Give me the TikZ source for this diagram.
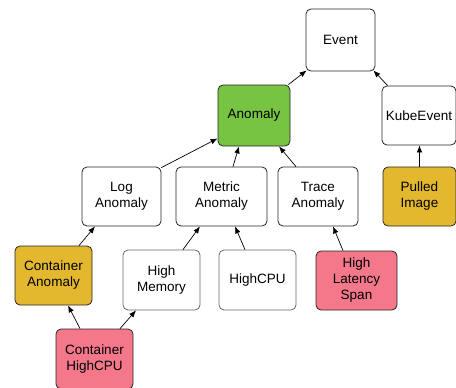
\documentclass[tikz,border=0pt]{standalone}
\usepackage{fontspec}
\setmainfont{Liberation Sans}
\usetikzlibrary{arrows.meta}
\definecolor{anomgreen}{RGB}{118,196,66}
\definecolor{warnyellow}{RGB}{227,183,46}
\definecolor{alertpink}{RGB}{244,120,138}
\begin{document}
\begin{tikzpicture}[x=1pt,y=-1pt,
  box/.style={draw=black!85, line width=0.8pt, rounded corners=5pt, fill=white,
    align=center, inner sep=0pt, font=\fontsize{13.5}{16}\selectfont,
    minimum width=77pt, minimum height=60pt},
  soft/.style={draw=black!60},
  arr/.style={-{Latex[length=7pt,width=5.5pt]}, line width=0.7pt, black}]
\useasboundingbox (0,0) rectangle (456,388);

% class hierarchy
\node[box, minimum width=69pt, minimum height=62pt] (event) at (340.5,40) {Event};
\node[box, fill=anomgreen, minimum width=72pt, minimum height=61pt] (anomaly) at (254,115.5) {Anomaly};
\node[box, minimum width=74pt, minimum height=59pt] (kube) at (419,115.5) {KubeEvent};

\node[box, minimum width=79pt, minimum height=59pt] (log) at (121.5,196.5) {Log\\Anomaly};
\node[box, minimum width=91pt, minimum height=59pt] (metric) at (221.5,196.5) {Metric\\Anomaly};
\node[box, minimum width=80pt, minimum height=59pt] (trace) at (318,196.5) {Trace\\Anomaly};
\node[box, fill=warnyellow, minimum width=73pt, minimum height=59pt] (pulled) at (419.5,196.5) {Pulled\\Image};

\node[box, fill=warnyellow, minimum height=59pt] (contanom) at (53.5,275.5) {Container\\Anomaly};
\node[box, soft] (highmem) at (161.5,280) {High\\Memory};
\node[box, soft] (highcpu) at (257.5,280) {HighCPU};
\node[box, fill=alertpink, minimum width=81pt, minimum height=59pt] (latency) at (356.5,280.5) {High\\Latency\\Span};

\node[box, fill=alertpink] (conthigh) at (94.5,359) {Container\\HighCPU};

% inheritance arrows
\draw[arr] ([xshift=-2pt]anomaly.north east) -- ([xshift=1pt,yshift=1pt]event.south west);
\draw[arr] ([xshift=6pt]kube.north west) -- ([xshift=-2pt,yshift=1pt]event.south east);
\draw[arr] ([yshift=-1pt]log.north east) -- ([yshift=8pt]anomaly.south west);
\draw[arr] ([xshift=11.5pt]metric.north) -- ([xshift=-15pt]anomaly.south);
\draw[arr] ([xshift=-22pt]trace.north) -- ([xshift=25pt]anomaly.south);
\draw[arr] (pulled.north) -- (pulled.north |- kube.south);
\draw[arr] ([xshift=25.5pt]contanom.north) -- ([xshift=-26.5pt]log.south);
\draw[arr] ([xshift=21.5pt]highmem.north) -- ([xshift=-21.5pt]metric.south);
\draw[arr] ([xshift=-12.5pt]highcpu.north) -- ([xshift=13.5pt]metric.south);
\draw[arr] ([xshift=-13.5pt]latency.north) -- ([xshift=15pt]trace.south);
\draw[arr] ([xshift=-14.5pt]conthigh.north) -- ([xshift=14.5pt]contanom.south);
\draw[arr] ([xshift=25.5pt]conthigh.north) -- ([xshift=-25.5pt]highmem.south);
\end{tikzpicture}
\end{document}
